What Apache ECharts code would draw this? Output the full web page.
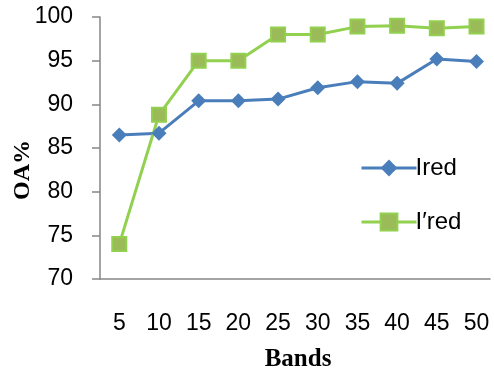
<!DOCTYPE html>
<html><head><meta charset="utf-8">
<script src="https://cdn.jsdelivr.net/npm/echarts@6/dist/echarts.min.js"></script>
<style>html,body{margin:0;padding:0;background:#fff}#c{width:494px;height:377px}</style>
</head><body><div id="c"></div>
<script>
const bands = [5, 10, 15, 20, 25, 30, 35, 40, 45, 50];
const ired = [86.5, 86.7, 90.4, 90.4, 90.6, 91.9, 92.6, 92.4, 95.2, 94.9];
const ired2 = [74.0, 88.8, 95.0, 95.0, 98.0, 98.0, 98.9, 99.0, 98.7, 98.9];
const yTicks = [70, 75, 80, 85, 90, 95, 100];
const xTitle = 'Bands';
const yTitle = 'OA%';

const chart = echarts.init(document.getElementById('c'));
chart.setOption({
  animation: false,
  grid: {left: 100, right: 4, top: 17, bottom: 98, outerBoundsMode: 'none', containLabel: false},
  legend: {
    orient: 'vertical', left: 355, top: 151, itemWidth: 55, itemHeight: 21, itemGap: 30,
    lineStyle: {width: 3},
    textStyle: {fontFamily: 'Liberation Sans', fontSize: 24, color: '#000', padding: [0,0,0,-6]},
    data: ['Ired', 'I′red']
  },
  graphic: [
    {type: 'text', x: 298, y: 360, style: {text: xTitle, font: 'bold 25px "Liberation Serif"', fill: '#000', textAlign: 'center', textVerticalAlign: 'middle'}},
    {type: 'text', x: 23, y: 170, rotation: Math.PI / 2, style: {text: yTitle, font: 'bold 24px "Liberation Serif"', fill: '#000', textAlign: 'center', textVerticalAlign: 'middle'}}
  ],
  xAxis: {
    type: 'value', min: 2.57, max: 51.7,
    axisLine: {show: true, lineStyle: {color: '#868686', width: 1.5}},
    axisTick: {show: false},
    splitLine: {show: false},
    axisLabel: {customValues: bands, margin: 33, fontFamily: 'Liberation Sans', fontSize: 23, color: '#000'}
  },
  yAxis: {
    type: 'value', min: 70, max: 100, interval: 5,
    axisLine: {show: true, lineStyle: {color: '#868686', width: 1.5}},
    axisTick: {show: true, length: 8, lineStyle: {color: '#868686', width: 1.5}},
    splitLine: {show: false},
    axisLabel: {margin: 27, fontFamily: 'Liberation Sans', fontSize: 23, color: '#000'}
  },
  series: [
    {name: 'Ired', type: 'line', data: bands.map((b,i)=>[b, ired[i]]),
     symbol: 'diamond', symbolSize: 15,
     lineStyle: {color: '#4a7ebb', width: 3}, itemStyle: {color: '#4a7ebb'}},
    {name: 'I′red', type: 'line', data: bands.map((b,i)=>[b, ired2[i]]),
     symbol: 'rect', symbolSize: 14,
     lineStyle: {color: '#92d050', width: 3}, itemStyle: {color: '#9bbb59', borderColor: '#92d050', borderWidth: 2}}
  ]
});
</script></body></html>
